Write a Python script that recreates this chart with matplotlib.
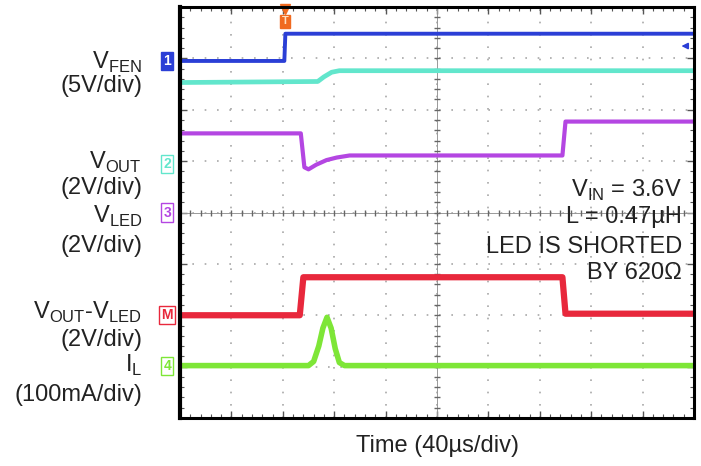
import numpy as np
import matplotlib
matplotlib.use('Agg')
from matplotlib import pyplot as plt

plt.rcParams['font.family'] = ['Liberation Sans', 'DejaVu Sans']
plt.rcParams['mathtext.fontset'] = 'custom'
plt.rcParams['mathtext.rm'] = 'Liberation Sans'

# scope traces, x and y in divisions (10 x 8 screen, centre = 0)
ch1_x = [0, 2.03, 2.05, 10]
ch1_y = [2.95, 2.95, 3.48, 3.48]

ch2_x = [0, 2.68, 2.8, 2.95, 3.1, 10]
ch2_y = [2.53, 2.55, 2.64, 2.73, 2.76, 2.76]

ch3_x = [0, 2.35, 2.42, 2.5, 2.65, 2.85, 3.05, 3.3, 7.44, 7.5, 10]
ch3_y = [1.54, 1.54, 0.88, 0.84, 0.93, 1.02, 1.07, 1.11, 1.11, 1.77, 1.77]

math_x = [0, 2.33, 2.4, 7.44, 7.5, 10]
math_y = [-2.0, -2.0, -1.26, -1.26, -1.97, -1.97]

ch4_x = [0, 2.5, 2.6, 2.7, 2.78, 2.86, 2.94, 3.02, 3.1, 3.2, 10]
ch4_y = [-2.98, -2.98, -2.9, -2.6, -2.25, -2.04, -2.25, -2.65, -2.92, -2.98, -2.98]

blue = '#2b3fd6'
cyan = '#62e6cc'
purple = '#b446e2'
red = '#e8283c'
green = '#7ee637'

fig = plt.figure(figsize=(7.01, 4.66), dpi=100)
ax = fig.add_axes([180/701, 1-418/466, 514/701, 411/466])
ax.set_xlim(0, 10)
ax.set_ylim(-4, 4)

# graticule
ax.set_xticks(np.arange(0, 11, 1))
ax.set_yticks(np.arange(-4, 5, 1))
ax.set_xticks(np.arange(0, 10.01, 0.2), minor=True)
ax.set_yticks(np.arange(-4, 4.01, 0.2), minor=True)
ax.tick_params(which='both', direction='in', top=True, right=True,
               labelbottom=False, labelleft=False, color='#555555')
ax.tick_params(which='major', length=5, width=1)
ax.tick_params(which='minor', length=3, width=0.8)
ax.grid(True, which='major', color='#a8a8a8', linestyle=(0, (1, 6.4)), linewidth=1.2)
ax.axhline(0, color='#999999', lw=0.7)
ax.axvline(5, color='#999999', lw=0.7)
ax.plot(np.arange(0, 10.01, 0.2), np.zeros(51), '|', color='#666666', ms=5)
ax.plot(np.full(41, 5.0), np.arange(-4, 4.01, 0.2), '_', color='#666666', ms=5)
for s in ax.spines.values():
    s.set_linewidth(2.2)
    s.set_color('black')
ax.spines['left'].set_linewidth(3)

# traces
ax.plot(ch2_x, ch2_y, color=cyan, lw=3.4)
ax.plot(ch1_x, ch1_y, color=blue, lw=2.8)
ax.plot(ch3_x, ch3_y, color=purple, lw=3.0)
ax.plot(math_x, math_y, color=red, lw=4.5)
ax.plot(ch4_x, ch4_y, color=green, lw=4.0)

# channel markers
yt = ax.get_yaxis_transform()
ax.text(-0.025, 2.95, '1', transform=yt, ha='center', va='center', color='white',
        fontsize=10, fontweight='bold', clip_on=False,
        bbox=dict(boxstyle='square,pad=0.15', fc=blue, ec=blue))
for y, lab, c in [(0.95, '2', cyan), (0.0, '3', purple), (-2.0, 'M', red), (-2.98, '4', green)]:
    ax.text(-0.025, y, lab, transform=yt, ha='center', va='center', color=c,
            fontsize=10, fontweight='bold', clip_on=False,
            bbox=dict(boxstyle='square,pad=0.15', fc='white', ec=c, lw=1))

# trigger marker and ch1 level arrow
ax.text(2.04, 3.72, 'T', ha='center', va='center', color='#ffe0c0', fontsize=8,
        fontweight='bold', bbox=dict(boxstyle='square,pad=0.15', fc='#f06a20', ec='#f06a20'))
ax.plot([2.04], [3.97], marker='v', color='#f06a20', ms=7, clip_on=False)
ax.annotate('', xy=(9.7, 3.24), xytext=(9.92, 3.24),
            arrowprops=dict(arrowstyle='-|>', color=blue, lw=1.2, mutation_scale=9))

# left labels
fs = 17
lx = 142/701
def lab(y, s):
    fig.text(lx, 1 - y/466, s, ha='right', va='center', fontsize=fs, color='#222222')

lab(62, r'V$_{\mathregular{FEN}}$')
lab(86, '(5V/div)')
lab(162, r'V$_{\mathregular{OUT}}$')
lab(188, '(2V/div)')
lab(216, r'V$_{\mathregular{LED}}$')
lab(246, '(2V/div)')
lab(312, r'V$_{\mathregular{OUT}}$-V$_{\mathregular{LED}}$')
lab(340, '(2V/div)')
lab(365, r'I$_{\mathregular{L}}$')
lab(395, '(100mA/div)')

# conditions
rx = 682/701
for y, s in [(190, r'V$_{\mathregular{IN}}$ = 3.6V'), (217, 'L = 0.47µH'),
             (247, 'LED IS SHORTED'), (273, 'BY 620Ω')]:
    fig.text(rx, 1 - y/466, s, ha='right', va='center', fontsize=fs, color='#222222')

fig.text(437/701, 1 - 446/466, 'Time (40µs/div)', ha='center', va='center',
         fontsize=fs, color='#222222')

fig.savefig('out.png', dpi=100)
